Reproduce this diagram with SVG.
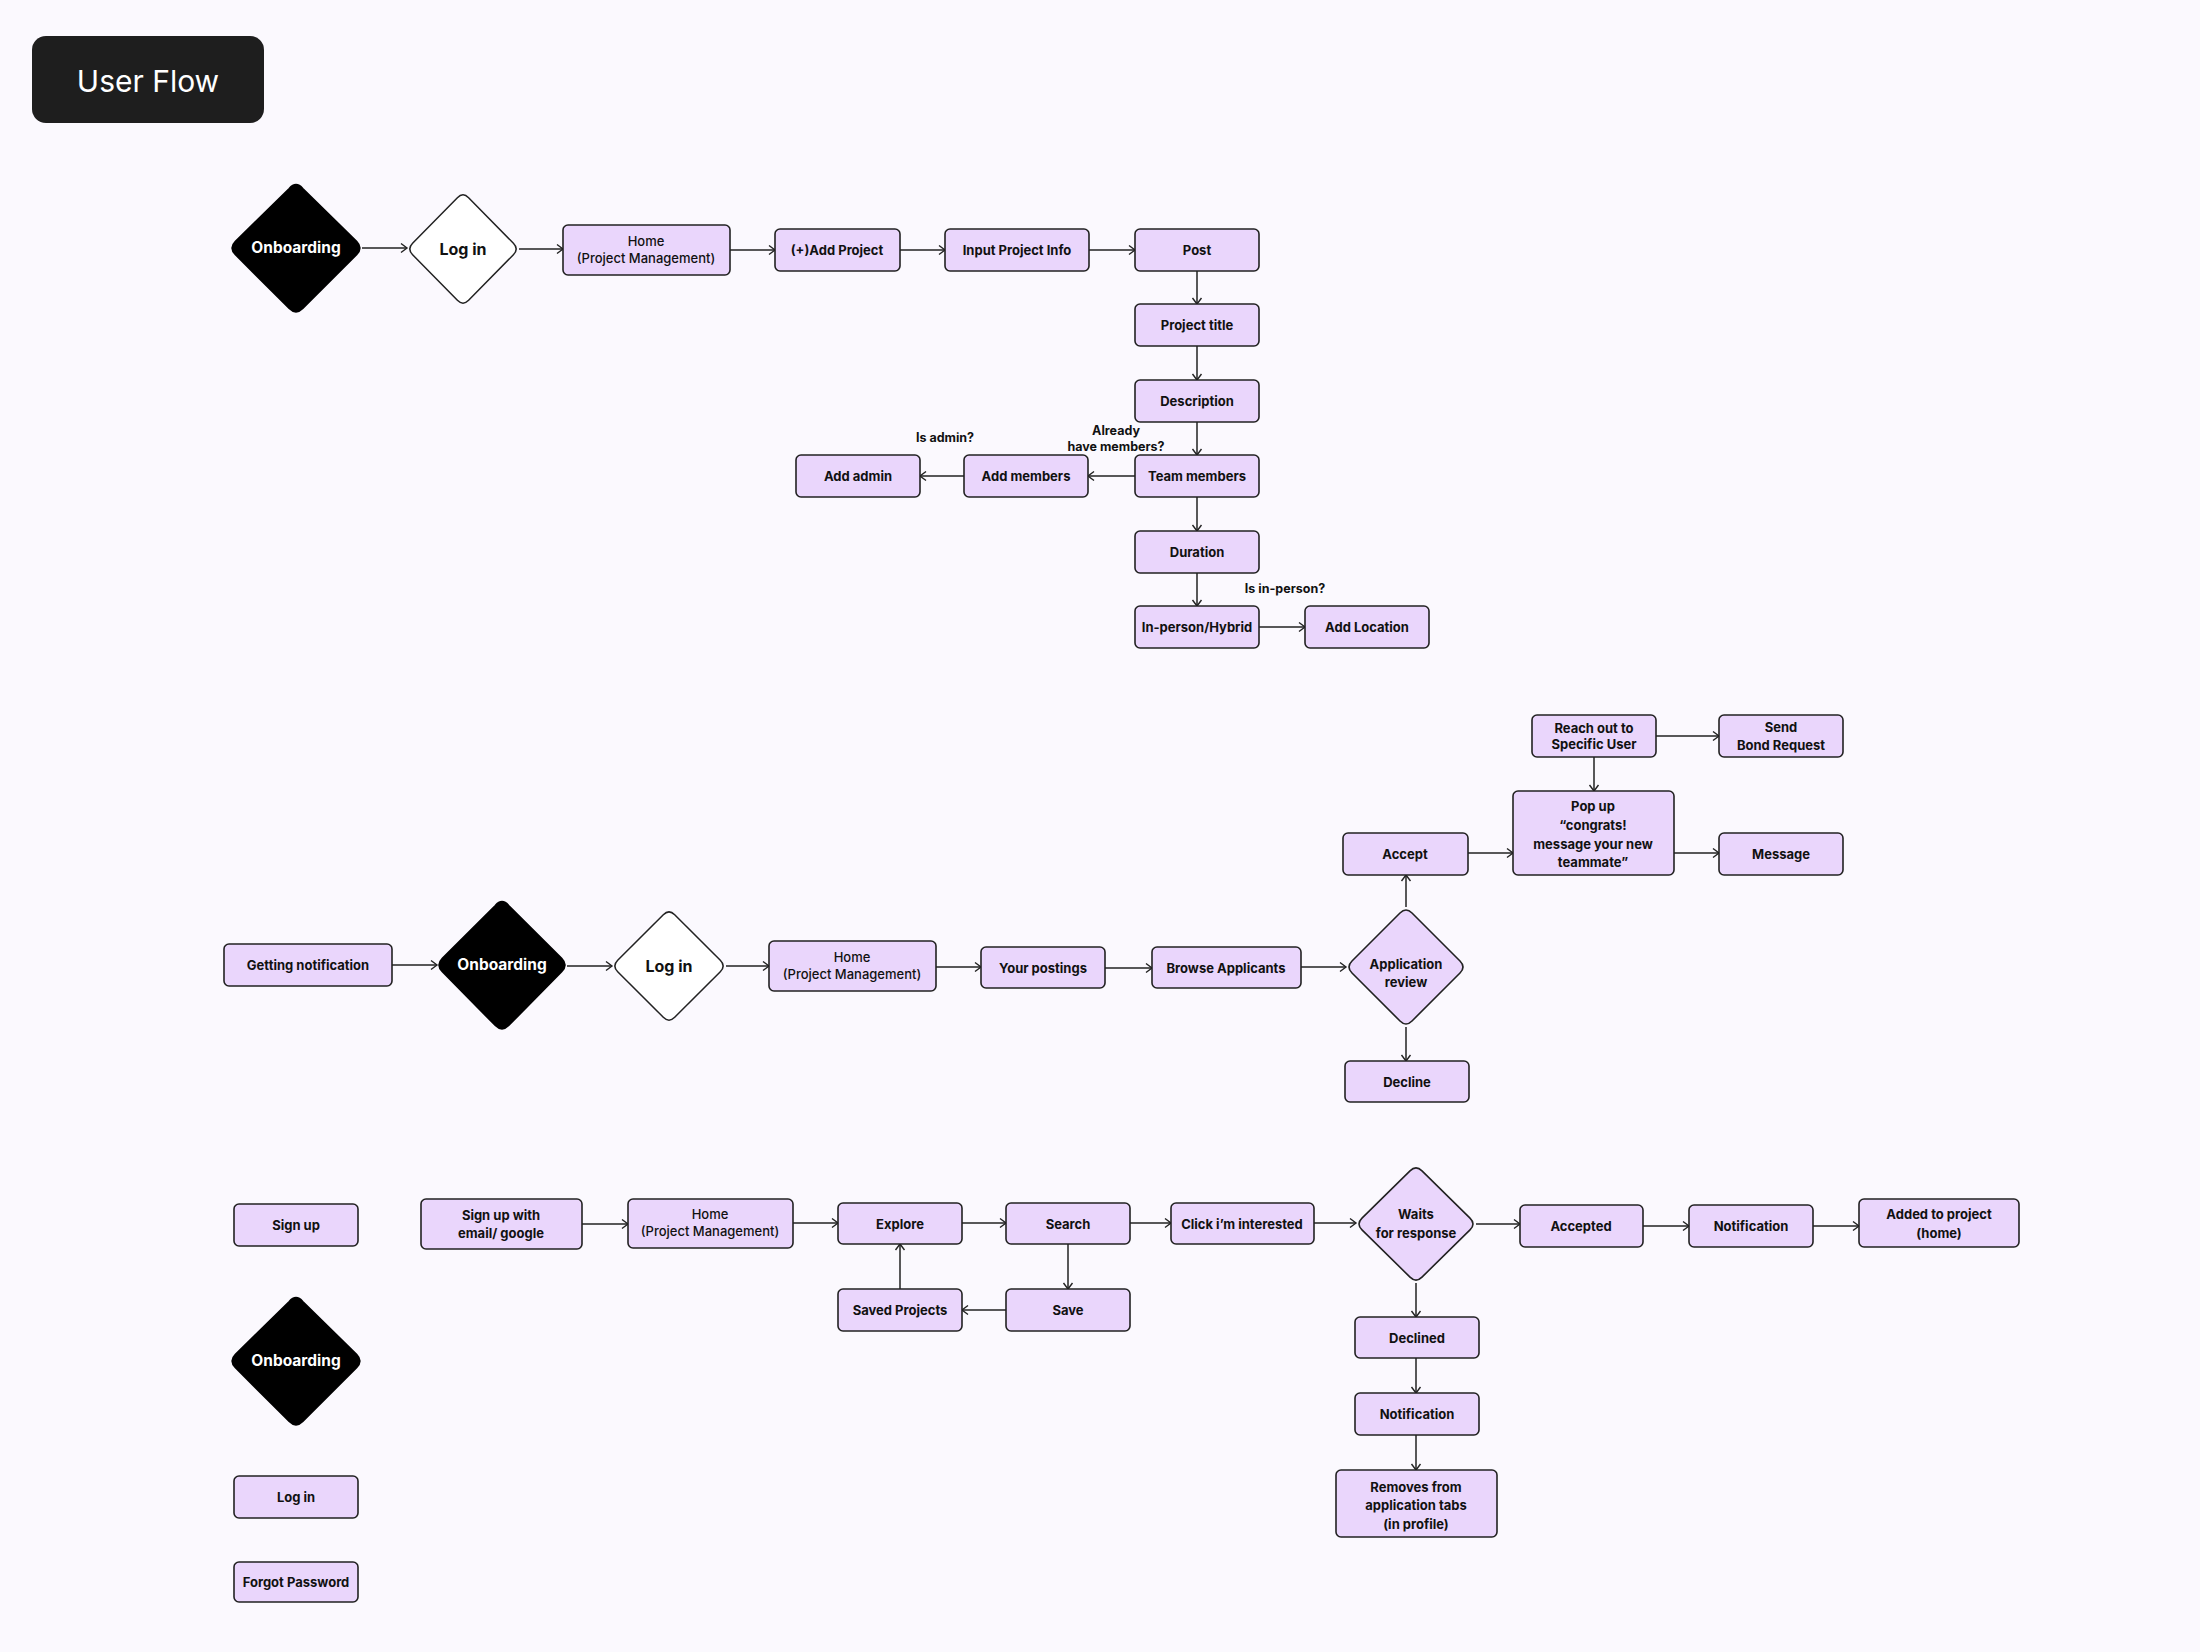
<svg xmlns="http://www.w3.org/2000/svg" width="2200" height="1652" viewBox="0 0 2200 1652">
<defs>
<marker id="arr" markerUnits="userSpaceOnUse" markerWidth="12" markerHeight="12" refX="8" refY="6" orient="auto">
<path d="M2,1.5 L8,6 L2,10.5" fill="none" stroke="#222" stroke-width="1.4"/>
</marker>
<style>
.box{fill:#ead6fc;stroke:#222;stroke-width:1.6}
.t{font-family:Inter,"Noto Sans",sans-serif;font-size:13px;font-weight:700;fill:#111;text-anchor:middle;dominant-baseline:central}
.tm{font-weight:500}
.lbl{font-family:Inter,"Noto Sans",sans-serif;font-size:12.5px;font-weight:700;fill:#111;text-anchor:middle;dominant-baseline:central}
.dk{fill:#000;stroke:#000;stroke-width:2}
.wh{fill:#fff;stroke:#222;stroke-width:1.5}
.pd{fill:#ead6fc;stroke:#222;stroke-width:1.6}
.tw{font-family:Inter,"Noto Sans",sans-serif;font-size:15.5px;font-weight:700;fill:#fff;text-anchor:middle;dominant-baseline:central}
.tb{font-family:Inter,"Noto Sans",sans-serif;font-size:16px;font-weight:700;fill:#111;text-anchor:middle;dominant-baseline:central}
.e{stroke:#222;stroke-width:1.5;fill:none;marker-end:url(#arr)}
</style>
</defs>
<rect x="0" y="0" width="2200" height="1652" fill="#fbf9fe"/>
<g id="title">
<rect x="32" y="36" width="232" height="87" rx="14" fill="#1e1e1e"/>
<text x="148" y="81" font-family="Inter,'Noto Sans',sans-serif" font-size="30" font-weight="400" fill="#fff" text-anchor="middle" dominant-baseline="central">User Flow</text>
</g>
<g id="connectors">
<line class="e" x1="362" y1="248" x2="407" y2="248"/>
<line class="e" x1="519" y1="249" x2="563" y2="249"/>
<line class="e" x1="730" y1="250" x2="775" y2="250"/>
<line class="e" x1="900" y1="250" x2="945" y2="250"/>
<line class="e" x1="1089" y1="250" x2="1135" y2="250"/>
<line class="e" x1="1197" y1="271" x2="1197" y2="304"/>
<line class="e" x1="1197" y1="346" x2="1197" y2="380"/>
<line class="e" x1="1197" y1="422" x2="1197" y2="455"/>
<line class="e" x1="1135" y1="476" x2="1088" y2="476"/>
<line class="e" x1="964" y1="476" x2="920" y2="476"/>
<line class="e" x1="1197" y1="497" x2="1197" y2="531"/>
<line class="e" x1="1197" y1="573" x2="1197" y2="606"/>
<line class="e" x1="1259" y1="627" x2="1305" y2="627"/>
<line class="e" x1="392" y1="965" x2="437" y2="965"/>
<line class="e" x1="567" y1="966" x2="612" y2="966"/>
<line class="e" x1="726" y1="966" x2="769" y2="966"/>
<line class="e" x1="936" y1="967" x2="981" y2="967"/>
<line class="e" x1="1105" y1="968" x2="1152" y2="968"/>
<line class="e" x1="1301" y1="967" x2="1346" y2="967"/>
<line class="e" x1="1406" y1="907" x2="1406" y2="875"/>
<line class="e" x1="1406" y1="1027" x2="1406" y2="1061"/>
<line class="e" x1="1468" y1="853" x2="1513" y2="853"/>
<line class="e" x1="1674" y1="853" x2="1719" y2="853"/>
<line class="e" x1="1656" y1="736" x2="1719" y2="736"/>
<line class="e" x1="1594" y1="757" x2="1594" y2="791"/>
<line class="e" x1="582" y1="1224" x2="628" y2="1224"/>
<line class="e" x1="793" y1="1223" x2="838" y2="1223"/>
<line class="e" x1="962" y1="1223" x2="1006" y2="1223"/>
<line class="e" x1="1130" y1="1223" x2="1171" y2="1223"/>
<line class="e" x1="1314" y1="1223" x2="1356" y2="1223"/>
<line class="e" x1="1476" y1="1224" x2="1520" y2="1224"/>
<line class="e" x1="1643" y1="1226" x2="1689" y2="1226"/>
<line class="e" x1="1813" y1="1226" x2="1859" y2="1226"/>
<line class="e" x1="1068" y1="1244" x2="1068" y2="1289"/>
<line class="e" x1="1006" y1="1310" x2="962" y2="1310"/>
<line class="e" x1="900" y1="1289" x2="900" y2="1244"/>
<line class="e" x1="1416" y1="1283" x2="1416" y2="1317"/>
<line class="e" x1="1416" y1="1358" x2="1416" y2="1393"/>
<line class="e" x1="1416" y1="1435" x2="1416" y2="1470"/>
</g>
<g id="labels">
<text class="lbl" x="945" y="437">Is admin?</text>
<text class="lbl" x="1116" y="430">Already</text>
<text class="lbl" x="1116" y="446">have members?</text>
<text class="lbl" x="1285" y="588">Is in-person?</text>
</g>
<g id="onboarding1"><path class="dk" d="M302.6,188.6 L356.4,241.4 Q363,248 356.4,254.6 L302.6,308.4 Q296,315 289.4,308.4 L235.6,254.6 Q229,248 235.6,241.4 L289.4,188.6 Q296,181 302.6,188.6 Z"/><text class="tw" x="296" y="247">Onboarding</text></g>
<g id="login1"><path class="wh" d="M468.6,197.7 L513.4,243.3 Q519,249 513.4,254.7 L468.6,300.3 Q463,306 457.4,300.3 L412.6,254.7 Q407,249 412.6,243.3 L457.4,197.7 Q463,192 468.6,197.7 Z"/><text class="tb" x="463" y="249">Log in</text></g>
<g id="home1"><rect class="box" x="563" y="225" width="167" height="50" rx="5"/><text class="t tm" x="646" y="241">Home</text><text class="t tm" x="646" y="258">(Project Management)</text></g>
<g id="add-project"><rect class="box" x="775" y="229" width="125" height="42" rx="5"/><text class="t" x="837" y="250">(+)Add Project</text></g>
<g id="input-info"><rect class="box" x="945" y="229" width="144" height="42" rx="5"/><text class="t" x="1017" y="250">Input Project Info</text></g>
<g id="post"><rect class="box" x="1135" y="229" width="124" height="42" rx="5"/><text class="t" x="1197" y="250">Post</text></g>
<g id="project-title"><rect class="box" x="1135" y="304" width="124" height="42" rx="5"/><text class="t" x="1197" y="325">Project title</text></g>
<g id="description"><rect class="box" x="1135" y="380" width="124" height="42" rx="5"/><text class="t" x="1197" y="401">Description</text></g>
<g id="team-members"><rect class="box" x="1135" y="455" width="124" height="42" rx="5"/><text class="t" x="1197" y="476">Team members</text></g>
<g id="duration"><rect class="box" x="1135" y="531" width="124" height="42" rx="5"/><text class="t" x="1197" y="552">Duration</text></g>
<g id="in-person"><rect class="box" x="1135" y="606" width="124" height="42" rx="5"/><text class="t" x="1197" y="627">In-person/Hybrid</text></g>
<g id="add-location"><rect class="box" x="1305" y="606" width="124" height="42" rx="5"/><text class="t" x="1367" y="627">Add Location</text></g>
<g id="add-members"><rect class="box" x="964" y="455" width="124" height="42" rx="5"/><text class="t" x="1026" y="476">Add members</text></g>
<g id="add-admin"><rect class="box" x="796" y="455" width="124" height="42" rx="5"/><text class="t" x="858" y="476">Add admin</text></g>

<g id="getting-notification"><rect class="box" x="224" y="944" width="168" height="42" rx="5"/><text class="t" x="308" y="965">Getting notification</text></g>
<g id="onboarding2"><path class="dk" d="M508.5,905.6 L561.5,958.4 Q568,965 561.5,971.6 L508.5,1025.4 Q502,1032 495.5,1025.4 L442.5,971.6 Q436,965 442.5,958.4 L495.5,905.6 Q502,898 508.5,905.6 Z"/><text class="tw" x="502" y="964">Onboarding</text></g>
<g id="login2"><path class="wh" d="M674.7,914.7 L720.3,960.3 Q726,966 720.3,971.7 L674.7,1017.3 Q669,1023 663.3,1017.3 L617.7,971.7 Q612,966 617.7,960.3 L663.3,914.7 Q669,909 674.7,914.7 Z"/><text class="tb" x="669" y="966">Log in</text></g>
<g id="home2"><rect class="box" x="769" y="941" width="167" height="50" rx="5"/><text class="t tm" x="852" y="957">Home</text><text class="t tm" x="852" y="974">(Project Management)</text></g>
<g id="your-postings"><rect class="box" x="981" y="947" width="124" height="41" rx="5"/><text class="t" x="1043" y="968">Your postings</text></g>
<g id="browse-applicants"><rect class="box" x="1152" y="947" width="149" height="41" rx="5"/><text class="t" x="1226" y="968">Browse Applicants</text></g>
<g id="application-review"><path class="pd" d="M1412,913 L1460,961 Q1466,967 1460,973 L1412,1021 Q1406,1027 1400,1021 L1352,973 Q1346,967 1352,961 L1400,913 Q1406,907 1412,913 Z"/><text class="t" x="1406" y="964">Application</text><text class="t" x="1406" y="982">review</text></g>
<g id="accept"><rect class="box" x="1343" y="833" width="125" height="42" rx="5"/><text class="t" x="1405" y="854">Accept</text></g>
<g id="decline"><rect class="box" x="1345" y="1061" width="124" height="41" rx="5"/><text class="t" x="1407" y="1082">Decline</text></g>
<g id="popup"><rect class="box" x="1513" y="791" width="161" height="84" rx="5"/><text class="t" x="1593" y="806">Pop up</text><text class="t" x="1593" y="825">“congrats!</text><text class="t" x="1593" y="844">message your new</text><text class="t" x="1593" y="862">teammate”</text></g>
<g id="reach-out"><rect class="box" x="1532" y="715" width="124" height="42" rx="5"/><text class="t" x="1594" y="728">Reach out to</text><text class="t" x="1594" y="744">Specific User</text></g>
<g id="send-bond"><rect class="box" x="1719" y="715" width="124" height="42" rx="5"/><text class="t" x="1781" y="727">Send</text><text class="t" x="1781" y="745">Bond Request</text></g>
<g id="message"><rect class="box" x="1719" y="833" width="124" height="42" rx="5"/><text class="t" x="1781" y="854">Message</text></g>

<g id="sign-up"><rect class="box" x="234" y="1204" width="124" height="42" rx="5"/><text class="t" x="296" y="1225">Sign up</text></g>
<g id="onboarding3"><path class="dk" d="M302.6,1301.6 L356.4,1354.4 Q363,1361 356.4,1367.6 L302.6,1421.4 Q296,1428 289.4,1421.4 L235.6,1367.6 Q229,1361 235.6,1354.4 L289.4,1301.6 Q296,1294 302.6,1301.6 Z"/><text class="tw" x="296" y="1360">Onboarding</text></g>
<g id="login3"><rect class="box" x="234" y="1476" width="124" height="42" rx="5"/><text class="t" x="296" y="1497">Log in</text></g>
<g id="forgot-password"><rect class="box" x="234" y="1562" width="124" height="40" rx="5"/><text class="t" x="296" y="1582">Forgot Password</text></g>
<g id="sign-up-with"><rect class="box" x="421" y="1199" width="161" height="50" rx="5"/><text class="t" x="501" y="1215">Sign up with</text><text class="t" x="501" y="1233">email/ google</text></g>
<g id="home3"><rect class="box" x="628" y="1199" width="165" height="49" rx="5"/><text class="t tm" x="710" y="1214">Home</text><text class="t tm" x="710" y="1231">(Project Management)</text></g>
<g id="explore"><rect class="box" x="838" y="1203" width="124" height="41" rx="5"/><text class="t" x="900" y="1224">Explore</text></g>
<g id="search"><rect class="box" x="1006" y="1203" width="124" height="41" rx="5"/><text class="t" x="1068" y="1224">Search</text></g>
<g id="click-interested"><rect class="box" x="1171" y="1203" width="143" height="41" rx="5"/><text class="t" x="1242" y="1224">Click i’m interested</text></g>
<g id="saved-projects"><rect class="box" x="838" y="1289" width="124" height="42" rx="5"/><text class="t" x="900" y="1310">Saved Projects</text></g>
<g id="save"><rect class="box" x="1006" y="1289" width="124" height="42" rx="5"/><text class="t" x="1068" y="1310">Save</text></g>
<g id="waits"><path class="pd" d="M1422,1170.9 L1470,1218.1 Q1476,1224 1470,1229.9 L1422,1277.1 Q1416,1283 1410,1277.1 L1362,1229.9 Q1356,1224 1362,1218.1 L1410,1170.9 Q1416,1165 1422,1170.9 Z"/><text class="t" x="1416" y="1214">Waits</text><text class="t" x="1416" y="1233">for response</text></g>
<g id="accepted"><rect class="box" x="1520" y="1205" width="123" height="42" rx="5"/><text class="t" x="1581" y="1226">Accepted</text></g>
<g id="notification1"><rect class="box" x="1689" y="1205" width="124" height="42" rx="5"/><text class="t" x="1751" y="1226">Notification</text></g>
<g id="added-to-project"><rect class="box" x="1859" y="1199" width="160" height="48" rx="5"/><text class="t" x="1939" y="1214">Added to project</text><text class="t" x="1939" y="1233">(home)</text></g>
<g id="declined"><rect class="box" x="1355" y="1317" width="124" height="41" rx="5"/><text class="t" x="1417" y="1338">Declined</text></g>
<g id="notification2"><rect class="box" x="1355" y="1393" width="124" height="42" rx="5"/><text class="t" x="1417" y="1414">Notification</text></g>
<g id="removes"><rect class="box" x="1336" y="1470" width="161" height="67" rx="5"/><text class="t" x="1416" y="1487">Removes from</text><text class="t" x="1416" y="1505">application tabs</text><text class="t" x="1416" y="1524">(in profile)</text></g>
</svg>
